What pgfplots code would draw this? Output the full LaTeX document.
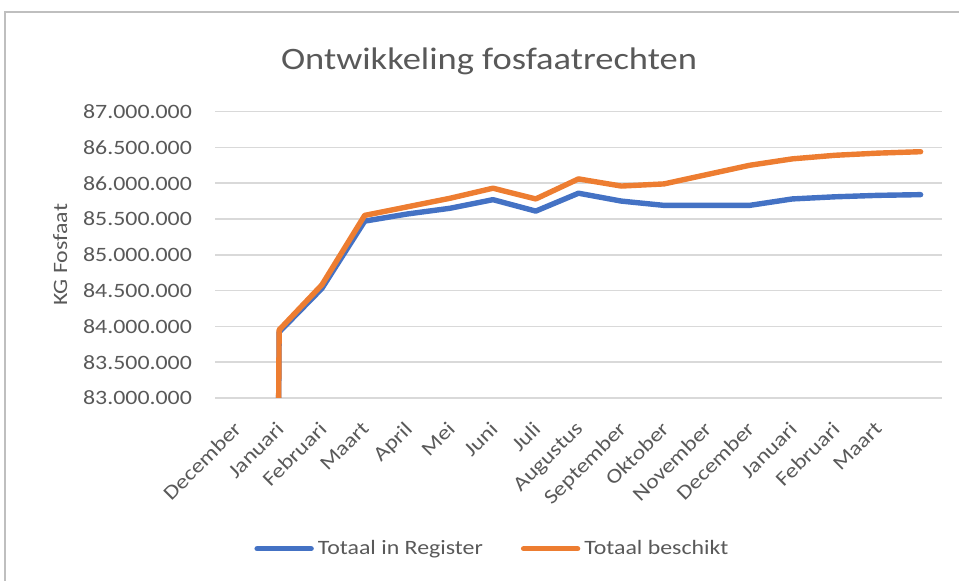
\documentclass[border=0pt]{standalone}
\usepackage{pgfplots}
\pgfplotsset{compat=1.18}
\usepackage{fontspec}
\setmainfont{Carlito}[FakeStretch=1.17]
\definecolor{cblue}{HTML}{4472C4}
\definecolor{corange}{HTML}{ED7D31}
\definecolor{cgrid}{HTML}{D9D9D9}
\definecolor{ctext}{HTML}{595959}
\begin{document}
\begin{tikzpicture}
\begin{axis}[
  at={(107.5pt,91.5pt)}, anchor=south west,
  scale only axis, width=363.5pt, height=143.15pt,
  xmin=-0.5, xmax=16.5, ymin=83000000, ymax=87000000,
  xtick={0,...,16},
  xticklabels={December,Januari,Februari,Maart,April,Mei,Juni,Juli,Augustus,September,Oktober,November,December,Januari,Februari,Maart,{}},
  ytick={83000000,83500000,84000000,84500000,85000000,85500000,86000000,86500000,87000000},
  scaled y ticks=false,
  /pgf/number format/.cd, fixed, precision=0, 1000 sep={.}, assume math mode=true,
  /pgfplots/.cd,
  major tick length=0pt,
  axis line style={draw=none},
  ymajorgrids, grid style={color=cgrid, line width=0.8pt},
  tick label style={font=\fontsize{10.2pt}{12pt}\selectfont, text=ctext},
  yticklabel style={anchor=east, xshift=-8pt},
  xticklabel style={xshift=-2pt, yshift=-11pt, rotate=45, anchor=north east, inner sep=0pt},
  ylabel={KG Fosfaat},
  every axis y label/.style={at={(axis description cs:-0.213,0.5)}, rotate=90, anchor=center, font=\fontsize{10.2pt}{12pt}\selectfont, text=ctext},
  legend columns=2,
  legend style={at={(axis description cs:0.383,-0.527)}, anchor=center, draw=none, fill=none,
    font=\fontsize{10.2pt}{12pt}\selectfont, text=ctext,
    /tikz/every even column/.append style={column sep=17pt}},
  legend cell align=left,
  legend image code/.code={\draw[#1, line cap=round] (0pt,0pt) -- (27pt,0pt);},
]
\addplot[cblue, line width=2.7pt, line join=round, line cap=round] coordinates {
(0,0) (1,83920000) (2,84530000) (3,85470000) (4,85570000) (5,85650000) (6,85770000) (7,85610000) (8,85860000) (9,85750000) (10,85690000) (11,85690000) (12,85690000) (13,85780000) (14,85810000) (15,85830000) (16,85840000)
};
\addlegendentry{Totaal in Register}
\addplot[corange, line width=2.7pt, line join=round, line cap=round] coordinates {
(0,0) (1,83950000) (2,84580000) (3,85550000) (4,85670000) (5,85790000) (6,85930000) (7,85780000) (8,86060000) (9,85960000) (10,85990000) (11,86120000) (12,86250000) (13,86340000) (14,86390000) (15,86420000) (16,86440000)
};
\addlegendentry{Totaal beschikt}
\end{axis}
\node[anchor=base, text=ctext, font=\fontsize{15.6pt}{18pt}\selectfont] at (244.5pt,255.5pt) {Ontwikkeling fosfaatrechten};
\draw[color=black!25, line width=0.6pt] (2.5pt,0pt) -- (2.5pt,284.5pt) -- (479.5pt,284.5pt);
\pgfresetboundingbox
\path (0pt,0pt) rectangle (479.5pt,290.5pt);
\end{tikzpicture}
\end{document}
